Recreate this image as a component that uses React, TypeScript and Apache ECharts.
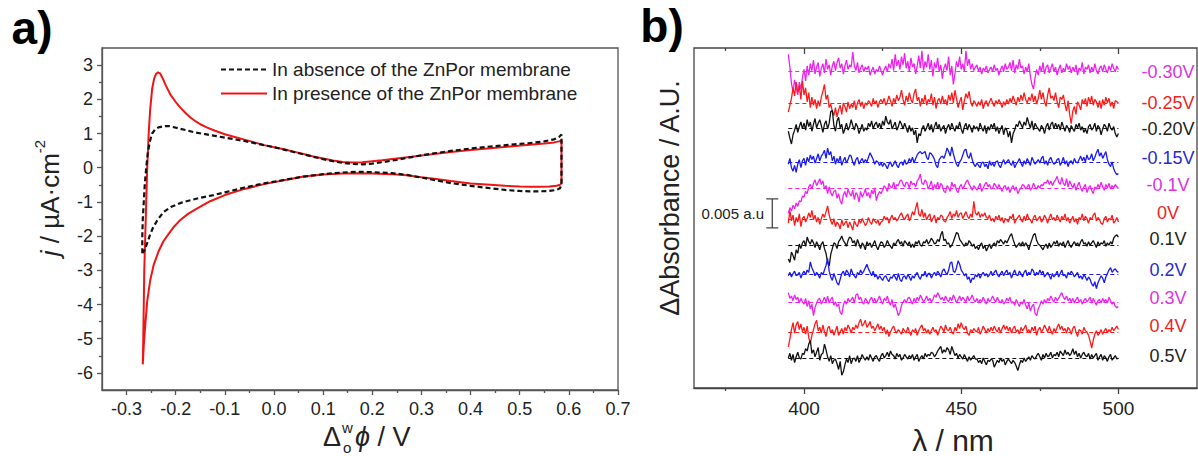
import React, { useEffect, useRef } from 'react';
import * as echarts from 'echarts';

// ---------- Panel a: cyclic voltammograms (E / V, j / µA cm-2) ----------
const absenceCurve: [number, number][] = [
  [-0.268, -2.5], [-0.268, -2.0], [-0.267, -1.5], [-0.265, -1.0], [-0.263, -0.5], [-0.26, 0.0],
  [-0.257, 0.4], [-0.253, 0.75], [-0.248, 1.0], [-0.242, 1.12], [-0.235, 1.18], [-0.225, 1.21],
  [-0.214, 1.22], [-0.2, 1.17], [-0.18, 1.1], [-0.16, 1.03], [-0.14, 0.98], [-0.12, 0.93],
  [-0.1, 0.88], [-0.08, 0.83], [-0.06, 0.78], [-0.04, 0.72], [-0.02, 0.66], [0, 0.6],
  [0.02, 0.53], [0.04, 0.46], [0.06, 0.39], [0.08, 0.32], [0.1, 0.25], [0.12, 0.19],
  [0.14, 0.14], [0.16, 0.11], [0.18, 0.1], [0.2, 0.12], [0.22, 0.16], [0.25, 0.23],
  [0.28, 0.31], [0.3, 0.36], [0.33, 0.43], [0.36, 0.49], [0.4, 0.56], [0.44, 0.62],
  [0.48, 0.67], [0.52, 0.72], [0.55, 0.77], [0.57, 0.83], [0.58, 0.9], [0.585, 0.97],
  [0.585, 0.5], [0.585, 0], [0.585, -0.5], [0.582, -0.6], [0.575, -0.65],
  [0.56, -0.68], [0.54, -0.69], [0.52, -0.69], [0.5, -0.68], [0.47, -0.65], [0.44, -0.6],
  [0.4, -0.53], [0.36, -0.45], [0.33, -0.37], [0.3, -0.29], [0.27, -0.21], [0.24, -0.16],
  [0.2, -0.13], [0.17, -0.12], [0.14, -0.14], [0.1, -0.19], [0.06, -0.26], [0.02, -0.36],
  [-0.02, -0.46], [-0.06, -0.58], [-0.1, -0.72], [-0.123, -0.8], [-0.15, -0.88], [-0.17, -0.95],
  [-0.19, -1.03], [-0.21, -1.15], [-0.225, -1.3], [-0.238, -1.55], [-0.246, -1.75],
  [-0.252, -1.95], [-0.258, -2.2], [-0.263, -2.4], [-0.268, -2.5],
];

const presenceCurve: [number, number][] = [
  [-0.267, -5.75], [-0.266, -5.0], [-0.265, -4.0], [-0.264, -3.0], [-0.262, -2.0], [-0.26, -1.0],
  [-0.258, 0.0], [-0.255, 1.0], [-0.252, 1.7], [-0.248, 2.3], [-0.244, 2.6], [-0.24, 2.74],
  [-0.236, 2.79], [-0.232, 2.76], [-0.226, 2.6], [-0.22, 2.4], [-0.21, 2.12], [-0.2, 1.92],
  [-0.19, 1.75], [-0.18, 1.6], [-0.17, 1.47], [-0.16, 1.36], [-0.15, 1.27], [-0.137, 1.18],
  [-0.12, 1.08], [-0.1, 0.98], [-0.08, 0.9], [-0.06, 0.82], [-0.04, 0.74], [-0.02, 0.66],
  [0, 0.6], [0.02, 0.54], [0.04, 0.47], [0.06, 0.4], [0.08, 0.33], [0.1, 0.27],
  [0.12, 0.21], [0.14, 0.17], [0.16, 0.15], [0.18, 0.16], [0.2, 0.19], [0.22, 0.22],
  [0.25, 0.27], [0.28, 0.32], [0.3, 0.36], [0.33, 0.41], [0.36, 0.46], [0.4, 0.52],
  [0.44, 0.57], [0.48, 0.62], [0.52, 0.67], [0.55, 0.71], [0.57, 0.74], [0.58, 0.77],
  [0.585, 0.8], [0.585, 0.5], [0.585, 0], [0.585, -0.45], [0.582, -0.5], [0.575, -0.53],
  [0.56, -0.55], [0.54, -0.56], [0.52, -0.56], [0.5, -0.55], [0.47, -0.53], [0.44, -0.5],
  [0.4, -0.46], [0.36, -0.39], [0.33, -0.33], [0.3, -0.28], [0.27, -0.22], [0.24, -0.19],
  [0.2, -0.17], [0.17, -0.16], [0.14, -0.17], [0.1, -0.2], [0.06, -0.26], [0.02, -0.37],
  [-0.02, -0.48], [-0.06, -0.62], [-0.1, -0.8], [-0.13, -0.98], [-0.157, -1.2], [-0.175, -1.35],
  [-0.19, -1.52], [-0.205, -1.75], [-0.215, -1.95], [-0.225, -2.15], [-0.235, -2.45],
  [-0.245, -2.85], [-0.252, -3.3], [-0.258, -3.9], [-0.262, -4.6], [-0.265, -5.2], [-0.267, -5.75],
];

const legendNames = ['In absence of the ZnPor membrane', 'In presence of the ZnPor membrane'];
const xMajorTicksA = [-0.3, -0.2, -0.1, 0, 0.1, 0.2, 0.3, 0.4, 0.5, 0.6, 0.7];
const xMinorTicksA = [-0.25, -0.15, -0.05, 0.05, 0.15, 0.25, 0.35, 0.45, 0.55, 0.65];
const yMajorTicksA = [-6, -5, -4, -3, -2, -1, 0, 1, 2, 3];
const yMinorTicksA = [-5.5, -4.5, -3.5, -2.5, -1.5, -0.5, 0.5, 1.5, 2.5];

// ---------- Panel b: difference spectra (offset traces, units of 1e-4 a.u.) ----------
const xMajorTicksB = [400, 450, 500];
const xMinorTicksB = [375, 425, 475];
const wavelengths = Array.from({ length: 211 }, (_, i) => 395 + i * 0.5);
const potentials = ['-0.30V', '-0.25V', '-0.20V', '-0.15V', '-0.1V', '0V', '0.1V', '0.2V', '0.3V', '0.4V', '0.5V'];
const traceColors = ['#ee22ee', '#ff1a1a', '#111111', '#1a1aee', '#ee22ee', '#ff1a1a', '#111111', '#1a1aee', '#ee22ee', '#ff1a1a', '#111111'];
const labelColors = ['#dd33dd', '#ee2222', '#222222', '#2a2ad0', '#dd33dd', '#ee2222', '#222222', '#2a2ad0', '#dd33dd', '#ee2222', '#222222'];
const baselines = [547, 493, 450, 391, 346, 291, 247, 196, 149, 97, 52];
const scaleBarValue = 50; // 0.005 a.u.

const trace_m030V = [
  30, 8, -20, -34, -14, -28, -40, -18, -30, -10,
  4, -16, 10, -6, 14, 2, 20, -4, 8, 16,
  -8, 6, 14, -2, 22, 4, 12, -6, 10, 18,
  2, 16, 24, 6, 14, -4, 10, 20, 4, 12,
  8, 34, 10, 2, 16, -2, 6, 12, 0, 8,
  4, 10, -6, 2, 8, -4, 4, 0, 10, 2,
  -6, 4, 10, 0, 14, 6, 22, 2, 30, 10,
  20, 4, 26, 12, 32, 6, 18, 0, 24, 8,
  14, -4, 10, 28, 6, 36, 2, 18, 8, 30,
  4, 20, -8, 16, 6, 24, 0, 12, -12, 6,
  14, 2, 26, -6, 10, -22, -4, 18, 8, 26,
  4, 14, 0, 36, 10, 22, 4, 14, 2, 8,
  12, 0, 8, -4, 6, 2, 10, -2, 4, 8,
  0, 12, 2, 6, -6, 4, 10, 0, 14, 4,
  8, 16, 2, 20, -2, 12, 4, 22, 6, 10,
  -4, 8, 0, 14, -8, -22, -30, -10, 4, -6,
  10, 0, 16, -4, 8, 12, -2, 6, 14, 0,
  8, -6, 4, 12, -2, 6, 0, 14, 4, 10,
  -2, 8, 0, 12, -6, 6, 2, 16, -4, 8,
  4, 12, -2, 8, 0, 14, 2, -4, 6, 10,
  0, 12, 4, -2, 10, 2, 14, 6, 0, 10,
  4,
];
const trace_m025V = [
  -16, -4, 8, 26, 12, 36, 18, 30, 6, 38,
  14, 26, 2, 18, -8, 10, -4, 6, -10, 4,
  -6, 10, 20, 32, 6, 14, -8, -2, -14, -22,
  -8, -24, -12, -4, -20, 0, -6, -16, 2, -10,
  -2, -8, 4, -12, 0, 6, -6, 2, -10, 0,
  -4, 4, 0, -6, 8, -2, 4, -8, 2, 6,
  0, 8, -4, 2, 12, 4, -6, 8, 0, 14,
  4, 10, 22, 6, -4, 12, 2, 18, 6, 0,
  16, 24, 4, 10, -6, 8, 0, 14, -4, 6,
  2, 16, -4, 10, -10, 4, 8, -2, 12, 0,
  6, -4, 14, 4, 18, 0, 22, 8, -8, 2,
  10, -12, 4, 16, 8, 20, 2, -6, 4, 0,
  -6, 2, -4, 6, -10, 0, 4, -6, 2, 8,
  0, -6, 4, -2, 6, 0, -8, 2, -4, 6,
  -2, 8, 0, 12, 4, -4, 10, 2, 14, 4,
  18, 6, 0, 10, 4, 16, 2, 12, -2, 8,
  22, 6, 18, 2, -6, 14, 26, 8, 12, 4,
  18, 2, -8, 10, 6, 14, -2, -14, 4, -20,
  -36, -14, -6, -20, 2, -4, -12, 6, -2, 8,
  -6, 10, 0, 12, -4, 6, 2, -8, 4, -10,
  6, -4, 10, 0, 8, -6, 2, -10, 4, 2,
  0,
];
const trace_m020V = [
  -6, -18, -28, -12, -4, 6, -8, 2, 10, -2,
  8, -4, 14, 2, 10, -6, 6, 16, 0, 8,
  14, 4, -8, 6, 12, -2, 8, 28, 30, 4,
  -6, 12, 18, 0, 6, -10, -2, 8, -4, 2,
  14, 4, -4, 8, 2, -10, -2, 6, -6, 0,
  -4, 8, 2, 12, -2, 6, 10, 0, 8, -2,
  12, 4, 20, 10, 6, 14, -2, 4, 10, -4,
  2, 12, 6, -2, 8, 0, -8, 4, -6, 0,
  -12, -4, -26, -10, -14, -2, 4, -6, 0, 8,
  -4, 6, -8, 2, 10, -2, 6, -6, 0, 4,
  -10, 0, 6, -4, 8, 0, -6, 4, -2, 10,
  -2, -10, 2, 8, -4, 6, 0, -8, 4, -2,
  2, -6, 8, 0, -6, 4, -10, 2, -4, 6,
  0, 8, -6, 2, -10, -2, 4, -12, 0, -4,
  -16, -6, -26, -10, -4, 6, 2, 12, 6, 0,
  10, 4, 18, 8, 0, 12, -4, 8, 2, -2,
  -6, 4, 0, -10, 2, 8, -4, 6, 10, -2,
  8, 0, 6, -4, 10, 2, -6, 4, 0, -8,
  4, -2, -6, 6, 0, 8, -4, 2, -8, -2,
  -10, 2, 6, -4, 0, 8, -6, 4, 0, -12,
  -2, 6, 2, -6, 8, 0, -4, 2, -10, -16,
  -10,
];
const trace_m015V = [
  -4, 6, -10, -16, -6, -18, -4, 4, -10, 2,
  6, -6, 8, 0, 12, 4, 10, -2, 6, 14,
  2, 10, 14, 20, 6, 24, 12, 18, 2, 10,
  -4, 6, 0, 10, -6, 2, 8, -2, 4, 12,
  10, 0, -6, 4, 8, -4, 2, 6, -2, 4,
  0, 8, 16, 10, 4, -4, 2, 0, -6, -2,
  -8, -2, -6, -12, -4, 0, -8, -4, 2, -6,
  -10, -2, 0, -6, 4, -4, -2, 6, 0, 8,
  -2, 6, 12, 16, 18, 14, 16, 18, 8, 4,
  16, 14, 10, 4, -6, -10, 4, 8, 10, 6,
  14, 24, 18, 10, 26, 14, 4, -4, -8, 0,
  4, 12, 20, 22, 10, 6, 16, 4, -4, -8,
  -2, -6, -10, -2, 0, -8, -4, -12, 2, -6,
  -2, -8, 0, 2, -6, -10, -2, 4, -4, 0,
  4, -2, -6, 2, -10, -4, 0, 6, -2, -8,
  2, -4, 6, 0, -6, 8, 2, -4, 0, 4,
  -2, 6, 10, -4, 2, -6, 4, 8, 0, -4,
  -2, 4, 6, -6, 0, 8, -4, 2, -8, 0,
  2, -4, 6, 0, -2, 4, 10, 2, 8, 0,
  12, 4, 6, 14, 2, 8, 16, 22, 10, 16,
  6, 12, 18, 4, -4, -8, 0, -12, -18, -22,
  -20,
];
const trace_m010V = [
  -44, -34, -40, -30, -36, -26, -32, -22, -24, -14,
  -16, -6, -10, 2, 6, -2, 8, 14, 4, 10,
  16, 6, 12, -2, 4, -10, 2, -8, -14, -6,
  -4, -18, -10, -22, -28, -12, -6, -16, -2, -10,
  -14, -4, -20, -8, -12, -24, -6, -16, -10, -2,
  -14, -8, -18, -4, -10, 0, -22, -12, -6, -10,
  -4, 4, 0, -6, 8, 2, 0, 10, -2, 6,
  4, 12, 14, 6, 2, 10, 8, 0, 12, 6,
  8, 2, 12, 16, 24, 8, 6, 14, 10, -2,
  4, 12, -4, 6, 0, 10, -2, 8, 4, -6,
  -8, 4, 0, -6, 10, 2, 6, -4, -8, 2,
  6, -2, 4, 10, 14, 6, 2, -4, 4, 0,
  -4, 2, 8, -6, 0, 6, 10, 2, 6, -2,
  0, 8, 4, -2, 6, 0, -6, 2, 4, -4,
  2, -8, 0, 4, -4, 2, -10, -4, 0, 6,
  4, -2, 2, 6, -4, 0, 8, 2, -2, 4,
  0, 6, 4, 10, 8, 14, 6, 12, 4, 10,
  14, 20, 10, 6, 18, 8, 4, 16, 2, 12,
  6, 0, 8, -4, 4, 10, 0, -6, 2, 6,
  -8, 0, 4, -4, -10, 2, -2, 6, 0, 10,
  2, -4, 6, 0, 8, -2, 4, 0, 6, 2,
  0,
];
const trace_0V = [
  -6, 16, -2, 8, -10, 4, -4, 10, -12, 2,
  6, -4, 2, 12, 4, 16, 0, 8, -4, 4,
  -8, 2, 10, 4, 14, 24, 8, -2, -8, 2,
  -12, -4, -8, -16, 0, -10, -6, -2, -14, -4,
  -10, -18, -2, -8, -12, 0, -6, 2, -4, -10,
  -6, 4, -4, -8, 2, -2, -6, 0, -10, -4,
  -2, 6, 0, 4, -6, 2, 8, 0, 4, -2,
  2, 8, 12, 4, 0, 6, 10, -2, 4, 14,
  8, 20, 30, 10, 6, 18, 4, 12, 0, 6,
  10, -4, 2, 8, -6, 4, 0, 8, 6, -2,
  -4, 4, 8, 14, 2, 10, 6, 16, 4, 10,
  12, 2, 8, 14, 6, 2, 10, 4, 32, 12,
  8, 14, 4, 10, 6, 12, 4, 2, 8, -2,
  2, -4, 6, 0, 8, -2, 4, -6, 2, 0,
  -4, 6, 2, 10, -6, 0, 4, 8, 0, -4,
  6, -2, 10, 2, 0, -6, 4, 8, -2, 2,
  6, -4, 0, 8, 2, -6, 4, 10, 0, 4,
  -2, 8, 2, -4, 6, 0, 10, -2, 4, -6,
  0, 6, -4, 2, -8, 4, 0, 10, -2, 6,
  2, -6, 4, 0, 8, 12, -2, 4, 0, -6,
  -8, 2, 6, -4, 2, 0, 8, -6, -2, 4,
  -4,
];
const trace_01V = [
  -24, -30, -12, -18, -26, -8, -14, 2, -6, 4,
  8, -2, 14, 6, 2, 10, 4, -4, 6, 0,
  -8, 2, 6, -6, -14, -30, -36, -16, -6, 4,
  2, -6, 6, 10, 16, 8, 4, -2, 8, 14,
  12, 4, 8, -2, 10, 2, -6, 4, 0, -8,
  6, 0, 4, -4, 2, 8, -2, -8, 0, 6,
  4, -4, 0, 8, 2, -2, -6, 4, 0, 6,
  10, 2, 6, -2, 8, 4, 0, 6, -4, 2,
  -4, 6, 2, 8, 0, -2, 6, 4, 10, 2,
  6, 12, 8, 2, 4, 10, 6, 18, 24, 8,
  10, 2, 4, -4, 0, 6, 14, 22, 20, 10,
  6, 2, -2, 4, 0, 8, 4, -2, 2, -6,
  -2, -8, 0, 4, -6, 0, -10, -4, 2, -6,
  0, 4, -2, 8, 4, 10, 6, 2, 8, 4,
  10, 16, 20, 10, 2, -4, 0, 4, -2, 6,
  -2, 4, 0, -8, 2, 10, 18, 20, 8, 2,
  0, -4, -8, -2, 2, -6, 4, -4, 0, 6,
  2, 8, -2, 4, 0, 6, -4, 2, 8, 0,
  -4, 2, 6, 0, 4, -2, 6, 10, 2, 4,
  -2, 6, 0, 4, 8, 2, -4, 6, 0, 4,
  2, 8, -2, 4, 0, 6, 2, 12, 16, 18,
  14,
];
const trace_02V = [
  -2, 4, -4, 2, 6, -2, 0, 4, -6, 2,
  6, 0, 8, 4, 22, 12, 6, -2, 4, 0,
  -6, 4, 0, 8, 16, 28, 6, -4, -10, 2,
  -6, -14, -18, -8, 2, 6, -2, 8, 4, -4,
  10, 2, -2, -6, 4, 0, 8, 2, 6, 12,
  18, 10, 4, -2, 6, -4, 0, -8, -2, -6,
  -10, -4, -2, -8, -12, -4, -6, 0, -4, -10,
  2, -8, -12, -4, -2, -8, 0, -4, -10, -2,
  -6, 0, 4, -4, -8, 0, -2, 6, -4, 2,
  2, -6, 0, 4, -2, 6, 2, -4, 6, 10,
  4, 0, 8, 20, 22, 6, 4, 12, 24, 18,
  8, 4, -2, 2, -8, -4, -14, -6, -8, 0,
  -4, 2, -6, 0, 4, -2, 2, -4, 0, 6,
  -2, 4, 8, 0, -4, 2, 6, -2, 4, 8,
  0, 4, -6, 2, 8, 0, -2, 6, 2, -4,
  4, 8, -2, 4, 0, 10, 6, -2, 4, 0,
  8, 2, 6, -4, 0, 4, -2, -8, 2, -4,
  0, 6, -4, 2, 8, -2, 0, -6, 4, 0,
  6, 2, -4, 0, 4, -6, -2, -8, 0, -4,
  -10, -4, -8, -16, -20, -12, -24, -14, -8, -2,
  -6, -14, -4, 2, 8, 12, 4, 8, 10, 6,
  4,
];
const trace_03V = [
  16, 6, 10, 2, 12, 4, 8, -2, 6, 0,
  -4, 6, -8, 2, -12, -4, -24, -10, -2, 4,
  6, -4, 2, 8, 0, 10, -2, 4, 8, -6,
  0, -8, -4, -18, -22, -6, 2, -4, 6, 0,
  4, 8, -2, 12, 14, 4, 8, 0, -4, 6,
  2, -4, 4, 8, 0, 6, -2, 4, 10, 2,
  -4, 6, 2, 10, 0, -6, 4, -10, -4, -14,
  -24, -18, -6, 0, 4, -2, 6, 8, 2, -4,
  6, 0, 8, 2, 12, 6, 0, 4, 10, 2,
  6, 0, 4, 12, 8, 16, 10, 4, 8, 2,
  10, 4, 0, 8, 2, 12, 6, -2, 4, 10,
  2, 8, 4, 0, 10, 2, 6, 12, 4, 0,
  6, -2, 4, 0, 8, 2, -4, 6, 0, 4,
  10, 4, 0, 8, 2, -2, 4, -4, 0, 6,
  2, 8, -2, 0, -6, 4, -2, -8, 0, -4,
  4, -6, -12, -2, -16, -8, -4, -20, -24, -12,
  -6, 2, -4, 4, -2, 6, 2, 10, 4, 0,
  8, 2, 6, 12, 16, 8, 4, 10, 2, 6,
  0, 6, -2, 4, 8, 0, 4, -4, 2, 6,
  0, 4, 8, -2, 6, 0, -6, 2, 4, -2,
  6, 0, 4, -2, 8, 2, -4, 0, -8, -10,
  -8,
];
const trace_04V = [
  -26, -12, 4, 16, -2, 12, 18, 4, 14, 0,
  8, -4, 10, -10, -20, -6, 4, 14, 20, 2,
  8, -2, 12, 0, -8, 6, 10, -2, 4, -6,
  2, 10, -6, 0, 6, -4, 8, 2, 12, 6,
  -2, 8, 4, 12, 6, 16, 22, 10, 14, 20,
  8, 12, 18, 6, 10, 2, 8, 14, 4, 10,
  2, 8, -4, 4, -8, 0, 6, 10, 2, -2,
  4, 0, -4, 6, 2, -2, 8, 0, -6, 4,
  0, 6, -6, 2, 8, 12, 2, 6, -2, 4,
  -4, 2, 8, 0, 4, -6, 2, 10, 6, 0,
  12, 4, 2, 8, 0, -4, 8, 2, 14, 6,
  16, 8, 4, 10, -2, -6, 4, 0, 6, 2,
  0, 8, -4, 2, 10, 4, -2, 6, 0, 8,
  2, 10, 4, 0, 8, -2, 6, 12, 4, 10,
  2, 8, -2, 6, 10, 0, 4, -4, 8, 2,
  6, 12, 0, 4, -2, 8, 2, 10, -6, 4,
  8, 0, 4, 12, 6, 0, 10, 2, -4, 6,
  0, 8, 14, 4, 10, 2, 6, -2, 8, 4,
  -4, 6, 10, 0, -8, 4, 2, -4, 8, 2,
  0, -6, -16, -28, -14, -4, 2, -6, -2, 4,
  -4, 2, 6, -2, 4, 0, 8, 2, 6, 10,
  4,
];
const trace_05V = [
  0, 8, -4, 6, -8, 2, 10, 0, -2, 8,
  6, 16, 12, 24, 30, 8, 14, 2, 10, 18,
  -4, 6, 8, 24, 14, 2, -6, 4, -10, -4,
  -2, -10, -20, -6, -30, -24, -12, -2, -8, 4,
  -10, -2, 0, -6, 4, -8, -2, 6, 0, -4,
  2, -4, 6, 0, -6, 2, 4, -2, -6, 4,
  8, 0, 4, 10, 2, 12, 6, 4, -2, 8,
  2, 6, -4, 0, 6, 2, -2, 4, 0, 6,
  -4, 2, 6, -6, 0, 4, -2, 8, 2, 6,
  4, 10, 8, 2, 6, 12, 16, 20, 8, 14,
  10, 18, 14, 6, 20, 12, 4, 8, 0, 6,
  2, -2, 6, 0, -6, 2, -4, 0, 4, -2,
  -2, -8, -4, -10, 0, -6, -12, -4, -6, -2,
  -4, -16, -10, -4, -8, 0, -6, -2, -12, -6,
  -2, -6, -10, -4, -8, -14, -22, -12, -4, -8,
  0, -6, -2, 2, -4, 4, 0, -2, 4, 8,
  2, -4, 6, 0, 8, 2, 4, 10, 0, 6,
  4, 10, 2, 12, 8, 4, 14, 6, 10, 4,
  8, 16, 6, 12, 2, 8, 0, 6, 10, 4,
  2, 8, -2, 6, 0, 4, 8, -4, 2, 6,
  -4, 4, 0, -6, 2, 6, -4, 0, 4, -2,
  0,
];
const traceDeviations = [
  trace_m030V, trace_m025V, trace_m020V, trace_m015V, trace_m010V, trace_0V,
  trace_01V, trace_02V, trace_03V, trace_04V, trace_05V,
];

const FONT = "'Liberation Sans', Arial, sans-serif";

function buildOption(): any {
  const axisLineA = { color: '#555', width: 1.3 };
  const axisLineB = { color: '#444', width: 1.3 };

  const xAxes: any[] = [
    {
      gridIndex: 0, type: 'value', min: -0.35, max: 0.7, position: 'bottom',
      axisLine: { show: true, onZero: false, lineStyle: axisLineA },
      axisTick: { show: true, inside: false, length: 5, customValues: xMajorTicksA, lineStyle: axisLineA },
      axisLabel: {
        customValues: xMajorTicksA, margin: 10, fontSize: 18, color: '#222', fontFamily: FONT,
        formatter: (v: number) => v.toFixed(1),
      },
      splitLine: { show: false },
    },
    {
      gridIndex: 0, type: 'value', min: -0.35, max: 0.7, position: 'bottom',
      axisLine: { show: false, onZero: false },
      axisTick: { show: true, inside: false, length: 3, customValues: xMinorTicksA, lineStyle: axisLineA },
      axisLabel: { show: false }, splitLine: { show: false },
    },
    {
      gridIndex: 1, type: 'value', min: 365, max: 525, position: 'bottom',
      axisLine: { show: true, onZero: false, lineStyle: axisLineB },
      axisTick: { show: true, inside: false, length: 6, customValues: xMajorTicksB, lineStyle: axisLineB },
      axisLabel: { customValues: xMajorTicksB, margin: 11, fontSize: 19, color: '#222', fontFamily: FONT },
      splitLine: { show: false },
    },
    {
      gridIndex: 1, type: 'value', min: 365, max: 525, position: 'bottom',
      axisLine: { show: false, onZero: false },
      axisTick: { show: true, inside: false, length: 3, customValues: xMinorTicksB, lineStyle: axisLineB },
      axisLabel: { show: false }, splitLine: { show: false },
    },
    {
      gridIndex: 1, type: 'value', min: 365, max: 525, position: 'top',
      axisLine: { show: false, onZero: false },
      axisTick: { show: true, inside: true, length: 6, customValues: xMajorTicksB, lineStyle: axisLineB },
      axisLabel: { show: false }, splitLine: { show: false },
    },
    {
      gridIndex: 1, type: 'value', min: 365, max: 525, position: 'top',
      axisLine: { show: false, onZero: false },
      axisTick: { show: true, inside: true, length: 3, customValues: xMinorTicksB, lineStyle: axisLineB },
      axisLabel: { show: false }, splitLine: { show: false },
    },
  ];

  const yAxes: any[] = [
    {
      gridIndex: 0, type: 'value', min: -6.5, max: 3.5, position: 'left',
      axisLine: { show: true, onZero: false, lineStyle: axisLineA },
      axisTick: { show: true, inside: false, length: 5, customValues: yMajorTicksA, lineStyle: axisLineA },
      axisLabel: { customValues: yMajorTicksA, margin: 9, fontSize: 18, color: '#222', fontFamily: FONT },
      splitLine: { show: false },
    },
    {
      gridIndex: 0, type: 'value', min: -6.5, max: 3.5, position: 'left',
      axisLine: { show: false, onZero: false },
      axisTick: { show: true, inside: false, length: 3, customValues: yMinorTicksA, lineStyle: axisLineA },
      axisLabel: { show: false }, splitLine: { show: false },
    },
    {
      gridIndex: 1, type: 'value', min: 0, max: 588, position: 'left',
      axisLine: { show: false, onZero: false }, axisTick: { show: false },
      axisLabel: { show: false }, splitLine: { show: false },
    },
  ];

  const series: any[] = [
    {
      type: 'line', name: legendNames[0], xAxisIndex: 0, yAxisIndex: 0, data: absenceCurve,
      showSymbol: false, symbol: 'none', z: 3,
      lineStyle: { color: '#111', width: 2.2, type: [5, 3] }, itemStyle: { color: '#111' },
    },
    {
      type: 'line', name: legendNames[1], xAxisIndex: 0, yAxisIndex: 0, data: presenceCurve,
      showSymbol: false, symbol: 'none', z: 2,
      lineStyle: { color: '#f01414', width: 2 }, itemStyle: { color: '#f01414' },
    },
  ];

  traceDeviations.forEach((dev, k) => {
    const base = baselines[k];
    const n = Math.min(dev.length, wavelengths.length);
    series.push({
      type: 'line', name: potentials[k], xAxisIndex: 2, yAxisIndex: 2,
      data: dev.slice(0, n).map((d, i) => [wavelengths[i], base + d]),
      showSymbol: false, symbol: 'none',
      lineStyle: { color: traceColors[k], width: 1.3 }, itemStyle: { color: traceColors[k] },
      markLine: {
        silent: true, symbol: ['none', 'none'], label: { show: false },
        lineStyle: { color: traceColors[k], width: 1, type: [4, 3] },
        data: [[{ coord: [wavelengths[0], base] }, { coord: [wavelengths[wavelengths.length - 1], base] }]],
      },
    });
  });

  // scale bar (0.005 a.u.)
  const sbX = 389.9, sbLow = 277, cap = 1.9;
  series.push({
    type: 'line', xAxisIndex: 2, yAxisIndex: 2, showSymbol: false, symbol: 'none',
    lineStyle: { color: '#444', width: 1.3 },
    data: [[sbX - cap, sbLow], [sbX + cap, sbLow], [sbX, sbLow], [sbX, sbLow + scaleBarValue],
      [sbX - cap, sbLow + scaleBarValue], [sbX + cap, sbLow + scaleBarValue]],
  });

  const labelTops = [72, 103, 129, 158, 185, 213, 239, 270, 298, 326, 356];
  const graphic: any[] = [
    { type: 'text', x: 32, y: 28, style: { text: 'a)', font: `bold 46px ${FONT}`, fill: '#000', textAlign: 'center', textVerticalAlign: 'middle' } },
    { type: 'text', x: 662, y: 26, style: { text: 'b)', font: `bold 46px ${FONT}`, fill: '#000', textAlign: 'center', textVerticalAlign: 'middle' } },
    {
      type: 'text', x: 50, y: 198, rotation: Math.PI / 2,
      style: {
        text: '{i|j} / µA·cm{sup|-2}', font: `26px ${FONT}`, fill: '#222', textAlign: 'center', textVerticalAlign: 'middle',
        rich: {
          i: { fontStyle: 'italic', fontSize: 26, fontFamily: FONT, lineHeight: 36 },
          sup: { fontSize: 15, fontFamily: FONT, verticalAlign: 'top', lineHeight: 15 },
        },
      },
    },
    { type: 'text', x: 341, y: 437, style: { text: 'Δ', font: `27px ${FONT}`, fill: '#222', textAlign: 'right', textVerticalAlign: 'middle' } },
    { type: 'text', x: 342, y: 427, style: { text: 'w', font: `15px ${FONT}`, fill: '#222', textAlign: 'left', textVerticalAlign: 'middle' } },
    { type: 'text', x: 343, y: 447, style: { text: 'o', font: `15px ${FONT}`, fill: '#222', textAlign: 'left', textVerticalAlign: 'middle' } },
    {
      type: 'text', x: 355, y: 437,
      style: {
        text: '{i|ϕ} / V', font: `27px ${FONT}`, fill: '#222', textAlign: 'left', textVerticalAlign: 'middle',
        rich: { i: { fontStyle: 'italic', fontSize: 27, fontFamily: FONT } },
      },
    },
    {
      type: 'text', x: 670, y: 198, rotation: Math.PI / 2,
      style: { text: 'ΔAbsorbance / A.U.', font: `27px ${FONT}`, fill: '#222', textAlign: 'center', textVerticalAlign: 'middle' },
    },
    { type: 'text', x: 953, y: 440, style: { text: 'λ / nm', font: `30px ${FONT}`, fill: '#222', textAlign: 'center', textVerticalAlign: 'middle' } },
    { type: 'text', x: 764, y: 213, style: { text: '0.005 a.u', font: `15px ${FONT}`, fill: '#222', textAlign: 'right', textVerticalAlign: 'middle' } },
  ];
  potentials.forEach((p, k) => {
    graphic.push({
      type: 'text', x: 1168, y: labelTops[k],
      style: { text: p, font: `18px ${FONT}`, fill: labelColors[k], textAlign: 'center', textVerticalAlign: 'middle' },
    });
  });

  return {
    animation: false,
    backgroundColor: '#fff',
    textStyle: { fontFamily: FONT },
    grid: [
      { left: 102, top: 48, width: 516, height: 342, show: true, borderColor: '#555', borderWidth: 1.3, containLabel: false },
      { left: 694, top: 48, width: 503, height: 340, show: true, borderColor: '#444', borderWidth: 1.3, containLabel: false },
    ],
    legend: {
      data: legendNames, orient: 'vertical', left: 220, top: 60, padding: 0,
      itemWidth: 46, itemHeight: 14, itemGap: 5, selectedMode: false,
      itemStyle: { opacity: 0 },
      textStyle: { fontSize: 19, color: '#222', fontFamily: FONT, lineHeight: 19 },
    },
    xAxis: xAxes,
    yAxis: yAxes,
    series,
    graphic,
  };
}

export default function App() {
  const ref = useRef<HTMLDivElement>(null);
  useEffect(() => {
    document.body.style.margin = '0';
    const chart = echarts.init(ref.current!, null, { renderer: 'svg' });
    chart.setOption(buildOption());
    return () => chart.dispose();
  }, []);
  return <div ref={ref} style={{ width: 1198, height: 456 }} />;
}
